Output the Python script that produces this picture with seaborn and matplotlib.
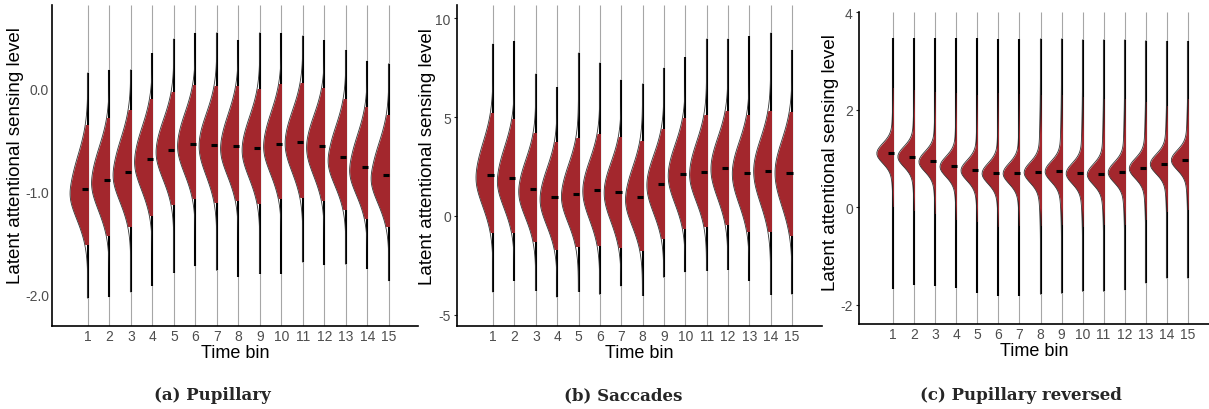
#!/usr/bin/env python3

""" Half violins of latent attentional sensing level per time bin
"""

from statistics import NormalDist

import numpy as np
import pandas as pd
import seaborn as sns
import matplotlib.pyplot as plt
from matplotlib.patches import Rectangle

#########################################################
### Values ###
#########################################################

time_bins = list(range(1, 16))

# (a) Pupillary
pup_mean = [-0.98, -0.89, -0.81, -0.69, -0.60, -0.54, -0.55, -0.56, -0.58, -0.54, -0.52, -0.56, -0.67, -0.76, -0.84]
pup_lo = [-1.51, -1.43, -1.34, -1.23, -1.12, -1.07, -1.10, -1.09, -1.11, -1.07, -1.06, -1.09, -1.17, -1.26, -1.34]
pup_hi = [-0.36, -0.29, -0.21, -0.10, -0.04, 0.03, 0.02, 0.02, -0.01, 0.04, 0.05, 0.00, -0.10, -0.18, -0.26]
pup_min = [-2.04, -2.03, -1.98, -1.92, -1.79, -1.73, -1.77, -1.83, -1.80, -1.80, -1.69, -1.72, -1.71, -1.76, -1.87]
pup_max = [0.15, 0.18, 0.18, 0.34, 0.48, 0.54, 0.54, 0.47, 0.54, 0.54, 0.51, 0.47, 0.37, 0.27, 0.24]
pup_ticks = [0.0, -1.0, -2.0]
pup_ticklabels = ['0.0', '-1.0', '-2.0']

# (b) Saccades
sac_mean = [2.07, 1.90, 1.35, 0.94, 1.09, 1.30, 1.20, 0.94, 1.60, 2.10, 2.21, 2.41, 2.16, 2.26, 2.16]
sac_lo = [-0.79, -0.82, -1.25, -1.67, -1.53, -1.45, -1.55, -1.70, -1.09, -0.62, -0.49, -0.42, -0.74, -0.77, -0.94]
sac_hi = [5.20, 4.90, 4.18, 3.75, 3.92, 4.14, 4.01, 3.80, 4.39, 4.95, 5.12, 5.32, 5.10, 5.29, 5.24]
sac_min = [-3.85, -3.27, -3.77, -4.11, -3.82, -3.96, -3.55, -4.02, -3.10, -2.84, -2.76, -2.71, -3.27, -3.97, -3.96]
sac_max = [8.69, 8.84, 7.17, 6.50, 8.23, 7.73, 6.88, 6.67, 7.47, 8.01, 8.94, 8.94, 9.08, 9.24, 8.38]
sac_ticks = [10, 5, 0, -5]
sac_ticklabels = ['10', '5', '0', '-5']

# (c) Pupillary reversed
rev_mean = [1.11, 1.04, 0.94, 0.84, 0.76, 0.70, 0.70, 0.72, 0.74, 0.70, 0.68, 0.72, 0.80, 0.89, 0.97]
rev_lo = [0.03, -0.05, -0.12, -0.23, -0.29, -0.38, -0.37, -0.36, -0.34, -0.38, -0.34, -0.34, -0.24, -0.07, -0.03]
rev_hi = [2.44, 2.41, 2.36, 2.34, 2.31, 2.35, 2.33, 2.31, 2.29, 2.25, 2.22, 2.22, 2.15, 2.08, 2.22]
rev_min = [-1.67, -1.59, -1.61, -1.65, -1.76, -1.82, -1.82, -1.78, -1.76, -1.72, -1.72, -1.69, -1.55, -1.45, -1.45]
rev_max = [3.46, 3.46, 3.46, 3.46, 3.46, 3.45, 3.45, 3.45, 3.45, 3.43, 3.43, 3.43, 3.41, 3.40, 3.40]
rev_ticks = [4, 2, 0, -2]
rev_ticklabels = ['4', '2', '0', '-2']

captions = ['(a) Pupillary', '(b) Saccades', '(c) Pupillary reversed']

#########################################################
### Turn the summaries into draws for the violins ###
#########################################################

grid = [NormalDist().inv_cdf((k + 0.5) / 400) for k in range(400)]

def make_draws(means, los, his, mins, maxs, core_sd=None, core_share=1.0):
    rows = []
    for b, m, lo, hi, mn, mx in zip(time_bins, means, los, his, mins, maxs):
        sd_lo = (m - lo) / 1.96
        sd_hi = (hi - m) / 1.96
        vals = [m + z * (sd_lo if z < 0 else sd_hi) for z in grid]
        if core_sd is not None:
            # narrow core on top of the wide body (heavy tails)
            n_core = int(len(grid) * core_share / (1 - core_share))
            vals += [m + core_sd * NormalDist().inv_cdf((k + 0.5) / n_core) for k in range(n_core)]
        vals += [mn, mx]
        rows += [(b, v) for v in vals]
    return pd.DataFrame(rows, columns=['bin', 'value'])

def centre(coll):
    xs = coll.get_paths()[0].vertices[:, 0]
    return (xs.min() + xs.max()) / 2

panels = [
    dict(df=make_draws(pup_mean, pup_lo, pup_hi, pup_min, pup_max),
         mean=pup_mean, lo=pup_lo, hi=pup_hi, mn=pup_min, mx=pup_max,
         ticks=pup_ticks, labels=pup_ticklabels, width=1.66, ytick=0, lab_dx=-28, lab_y=0.534,
         ylim=(-2.31, 0.81), xlim=(-0.67, 16.35), rect=[52, 6, 418, 327]),
    dict(df=make_draws(sac_mean, sac_lo, sac_hi, sac_min, sac_max),
         mean=sac_mean, lo=sac_lo, hi=sac_hi, mn=sac_min, mx=sac_max,
         ticks=sac_ticks, labels=sac_ticklabels, width=1.6, ytick=2.5, lab_dx=-21, lab_y=0.53,
         ylim=(-5.56, 10.66), xlim=(-0.69, 16.4), rect=[457, 6, 822, 327]),
    dict(df=make_draws(rev_mean, rev_lo, rev_hi, rev_min, rev_max, core_sd=0.18, core_share=0.7),
         mean=rev_mean, lo=rev_lo, hi=rev_hi, mn=rev_min, mx=rev_max,
         ticks=rev_ticks, labels=rev_ticklabels, width=1.56, ytick=2.5, lab_dx=-20, lab_y=0.521,
         ylim=(-2.39, 4.0), xlim=(-0.63, 16.01), rect=[859, 13, 1209, 325]),
]

#########################################################
### Plot ###
#########################################################

sns.set_style('ticks')
plt.rcParams['font.family'] = ['Liberation Sans', 'DejaVu Sans']
plt.rcParams['axes.unicode_minus'] = False

W, H = 1209, 410
fig = plt.figure(figsize=(W / 100, H / 100), dpi=100)

red = '#a3272d'
caption_x = [212, 623, 1021]

for p, cap, cx in zip(panels, captions, caption_x):
    l, t, r, b = p['rect']
    ax = fig.add_axes([l / W, 1 - b / H, (r - l) / W, (b - t) / H])
    ax.set_xlim(*p['xlim'])
    ax.set_ylim(*p['ylim'])

    # grey guide lines at every time bin
    ax.vlines(time_bins, p['ylim'][0], p['ylim'][1], color='#a6a6a6', lw=0.8, zorder=0.5)
    # black line across the full range of the draws
    ax.vlines(time_bins, p['mn'], p['mx'], color='black', lw=1.5, zorder=1)

    # filled violins, keep the left half inside the interval
    n0 = len(ax.collections)
    sns.violinplot(data=p['df'], x='bin', y='value', native_scale=True,
                   inner=None, cut=0, density_norm='width', width=p['width'],
                   color=red, linewidth=0, saturation=1, ax=ax)
    for coll in ax.collections[n0:]:
        pos = centre(coll)
        i = int(np.argmin(np.abs(np.array(time_bins) - pos)))
        clip = Rectangle((pos - 2, p['lo'][i]), 2, p['hi'][i] - p['lo'][i], transform=ax.transData)
        coll.set_clip_path(clip)
        coll.set_zorder(2)

    # outline of the left half over the full range
    n0 = len(ax.collections)
    sns.violinplot(data=p['df'], x='bin', y='value', native_scale=True,
                   inner=None, cut=0, density_norm='width', width=p['width'],
                   color='#333333', fill=False, linewidth=0.6, ax=ax)
    for coll in ax.collections[n0:]:
        pos = centre(coll)
        clip = Rectangle((pos - 2, -100), 2, 200, transform=ax.transData)
        coll.set_clip_path(clip)
        coll.set_zorder(2.5)

    # means
    ax.hlines(p['mean'], np.array(time_bins) - 0.27, np.array(time_bins) + 0.02,
              color='black', lw=2.2, zorder=3)

    ax.set_xlim(*p['xlim'])
    ax.set_ylim(*p['ylim'])
    ax.set_xticks(time_bins)
    ax.set_xticklabels([str(v) for v in time_bins])
    ax.set_yticks(p['ticks'])
    ax.set_yticklabels(p['labels'])
    ax.tick_params(labelsize=10, labelcolor='#4d4d4d', width=0.8)
    ax.tick_params(axis='x', length=0, pad=2)
    ax.tick_params(axis='y', length=p['ytick'], pad=2)
    sns.despine(ax=ax)
    for s in ['left', 'bottom']:
        ax.spines[s].set_linewidth(1.2)
        ax.spines[s].set_color('black')

    ax.set_xlabel('Time bin', fontsize=13, color='black')
    ax.set_ylabel('Latent attentional sensing level', fontsize=13.5, color='black')
    ax.xaxis.set_label_coords(0.5, -18 / (b - t))
    ax.yaxis.set_label_coords(p['lab_dx'] / (r - l), p['lab_y'])

    fig.text(cx / W, 1 - 400 / H, cap, ha='center', va='baseline',
             family=['DejaVu Serif'], fontweight='bold', fontsize=12)

plt.savefig('out.png', dpi=100)
